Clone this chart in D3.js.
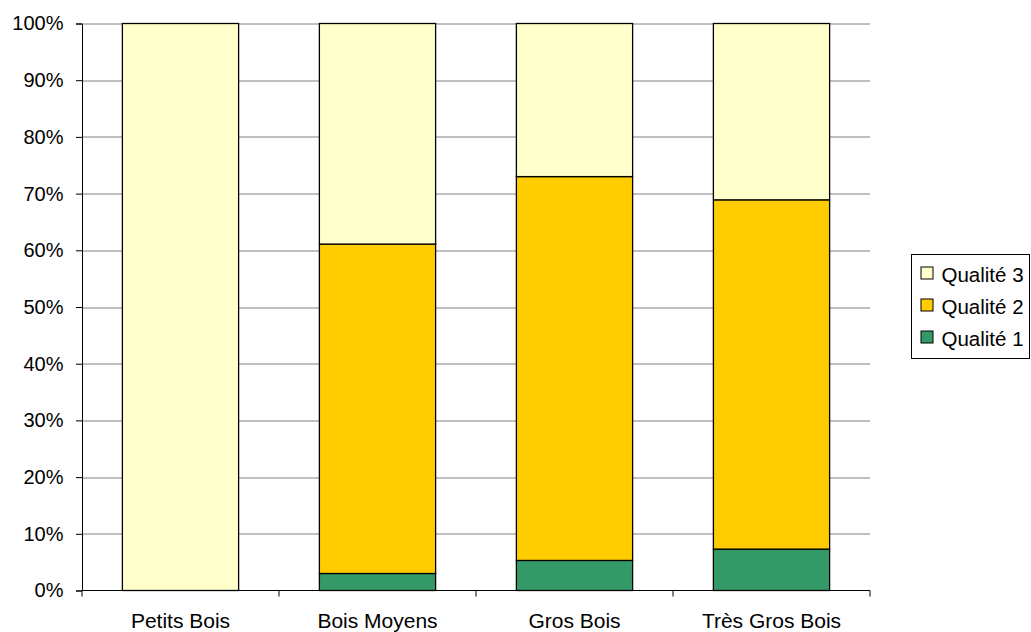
<!DOCTYPE html>
<html>
<head>
<meta charset="utf-8">
<script src="https://cdn.jsdelivr.net/npm/d3@7"></script>
<style>
  body { margin: 0; background: #fff; }
  text { font-family: "Liberation Sans", Arial, sans-serif; }
</style>
</head>
<body>
<div id="chart"></div>
<script>
// data
const categories = ["Petits Bois", "Bois Moyens", "Gros Bois", "Très Gros Bois"];
const qualite1 = [0, 3.0, 5.3, 7.3];
const qualite2 = [0, 58.1, 67.7, 61.6];
const qualite3 = [100, 38.9, 27.0, 31.1];
const seriesNames = ["Qualité 1", "Qualité 2", "Qualité 3"];
const seriesColors = ["#339966", "#FFCC00", "#FFFFCC"];
const yTicks = [0, 10, 20, 30, 40, 50, 60, 70, 80, 90, 100];

const W = 1031, H = 632;
const margin = { top: 23.5, right: 161, bottom: 41.5, left: 82 };
const width = W - margin.left - margin.right,
      height = H - margin.top - margin.bottom;

const svg = d3.select("#chart").append("svg")
    .attr("width", W).attr("height", H);
const g = svg.append("g")
    .attr("transform", `translate(${margin.left}, ${margin.top})`);

const rows = categories.map((c, i) => ({
    cat: c, "Qualité 1": qualite1[i], "Qualité 2": qualite2[i], "Qualité 3": qualite3[i]
}));
const stacked = d3.stack().keys(seriesNames)(rows);

const x = d3.scaleBand().domain(categories).range([0, width]).paddingInner(0.41).paddingOuter(0.205);
const y = d3.scaleLinear().domain([0, 100]).range([height, 0]);
const color = d3.scaleOrdinal().domain(seriesNames).range(seriesColors);

// gridlines
g.append("g").selectAll("line")
    .data(yTicks.filter(d => d > 0))
    .join("line")
    .attr("x1", 0).attr("x2", width)
    .attr("y1", d => Math.round(y(d)) + 0.5).attr("y2", d => Math.round(y(d)) + 0.5)
    .attr("stroke", "#808080").attr("stroke-width", 1);

// y axis
const yAxis = g.append("g")
    .call(d3.axisLeft(y).tickValues(yTicks).tickFormat(d => d + "%").tickSize(6).tickPadding(12.5));
yAxis.select(".domain").attr("stroke", "#000");
yAxis.selectAll(".tick line").attr("stroke", "#000");
yAxis.selectAll("text").attr("font-size", 20).attr("fill", "#000")
    .attr("font-family", "Liberation Sans, Arial, sans-serif");

// bars
g.append("g").selectAll("g")
    .data(stacked)
    .join("g")
    .attr("fill", d => color(d.key))
    .selectAll("rect")
    .data(d => d.filter(p => p[1] - p[0] > 0))
    .join("rect")
    .attr("x", d => x(d.data.cat))
    .attr("y", d => y(d[1]))
    .attr("width", x.bandwidth())
    .attr("height", d => y(d[0]) - y(d[1]))
    .attr("stroke", "#000").attr("stroke-width", 1.3);

// x axis
const xAxisG = g.append("g").attr("transform", `translate(0, ${height})`);
xAxisG.append("line").attr("x1", 0).attr("x2", width).attr("y1", 0).attr("y2", 0)
    .attr("stroke", "#000");
const bounds = d3.range(categories.length + 1).map(i => i * width / categories.length);
xAxisG.selectAll(".xt").data(bounds).join("line")
    .attr("x1", d => d).attr("x2", d => d).attr("y1", 0).attr("y2", 6)
    .attr("stroke", "#000");
xAxisG.selectAll(".xl").data(categories).join("text")
    .attr("x", d => x(d) + x.bandwidth() / 2)
    .attr("y", 37)
    .attr("text-anchor", "middle")
    .attr("font-size", 21)
    .text(d => d);

// legend
const legend = svg.append("g").attr("transform", "translate(911.5, 254.5)");
legend.append("rect").attr("width", 118).attr("height", 104)
    .attr("fill", "#fff").attr("stroke", "#000");
const legendOrder = ["Qualité 3", "Qualité 2", "Qualité 1"];
const item = legend.selectAll(".item").data(legendOrder).join("g")
    .attr("transform", (d, i) => `translate(9.5, ${12.5 + i * 32})`);
item.append("rect").attr("x", 0).attr("y", 0).attr("width", 12).attr("height", 12)
    .attr("fill", d => color(d)).attr("stroke", "#000");
item.append("text").attr("x", 20.5).attr("y", 15)
    .attr("font-size", 20.5).text(d => d);
</script>
</body>
</html>
